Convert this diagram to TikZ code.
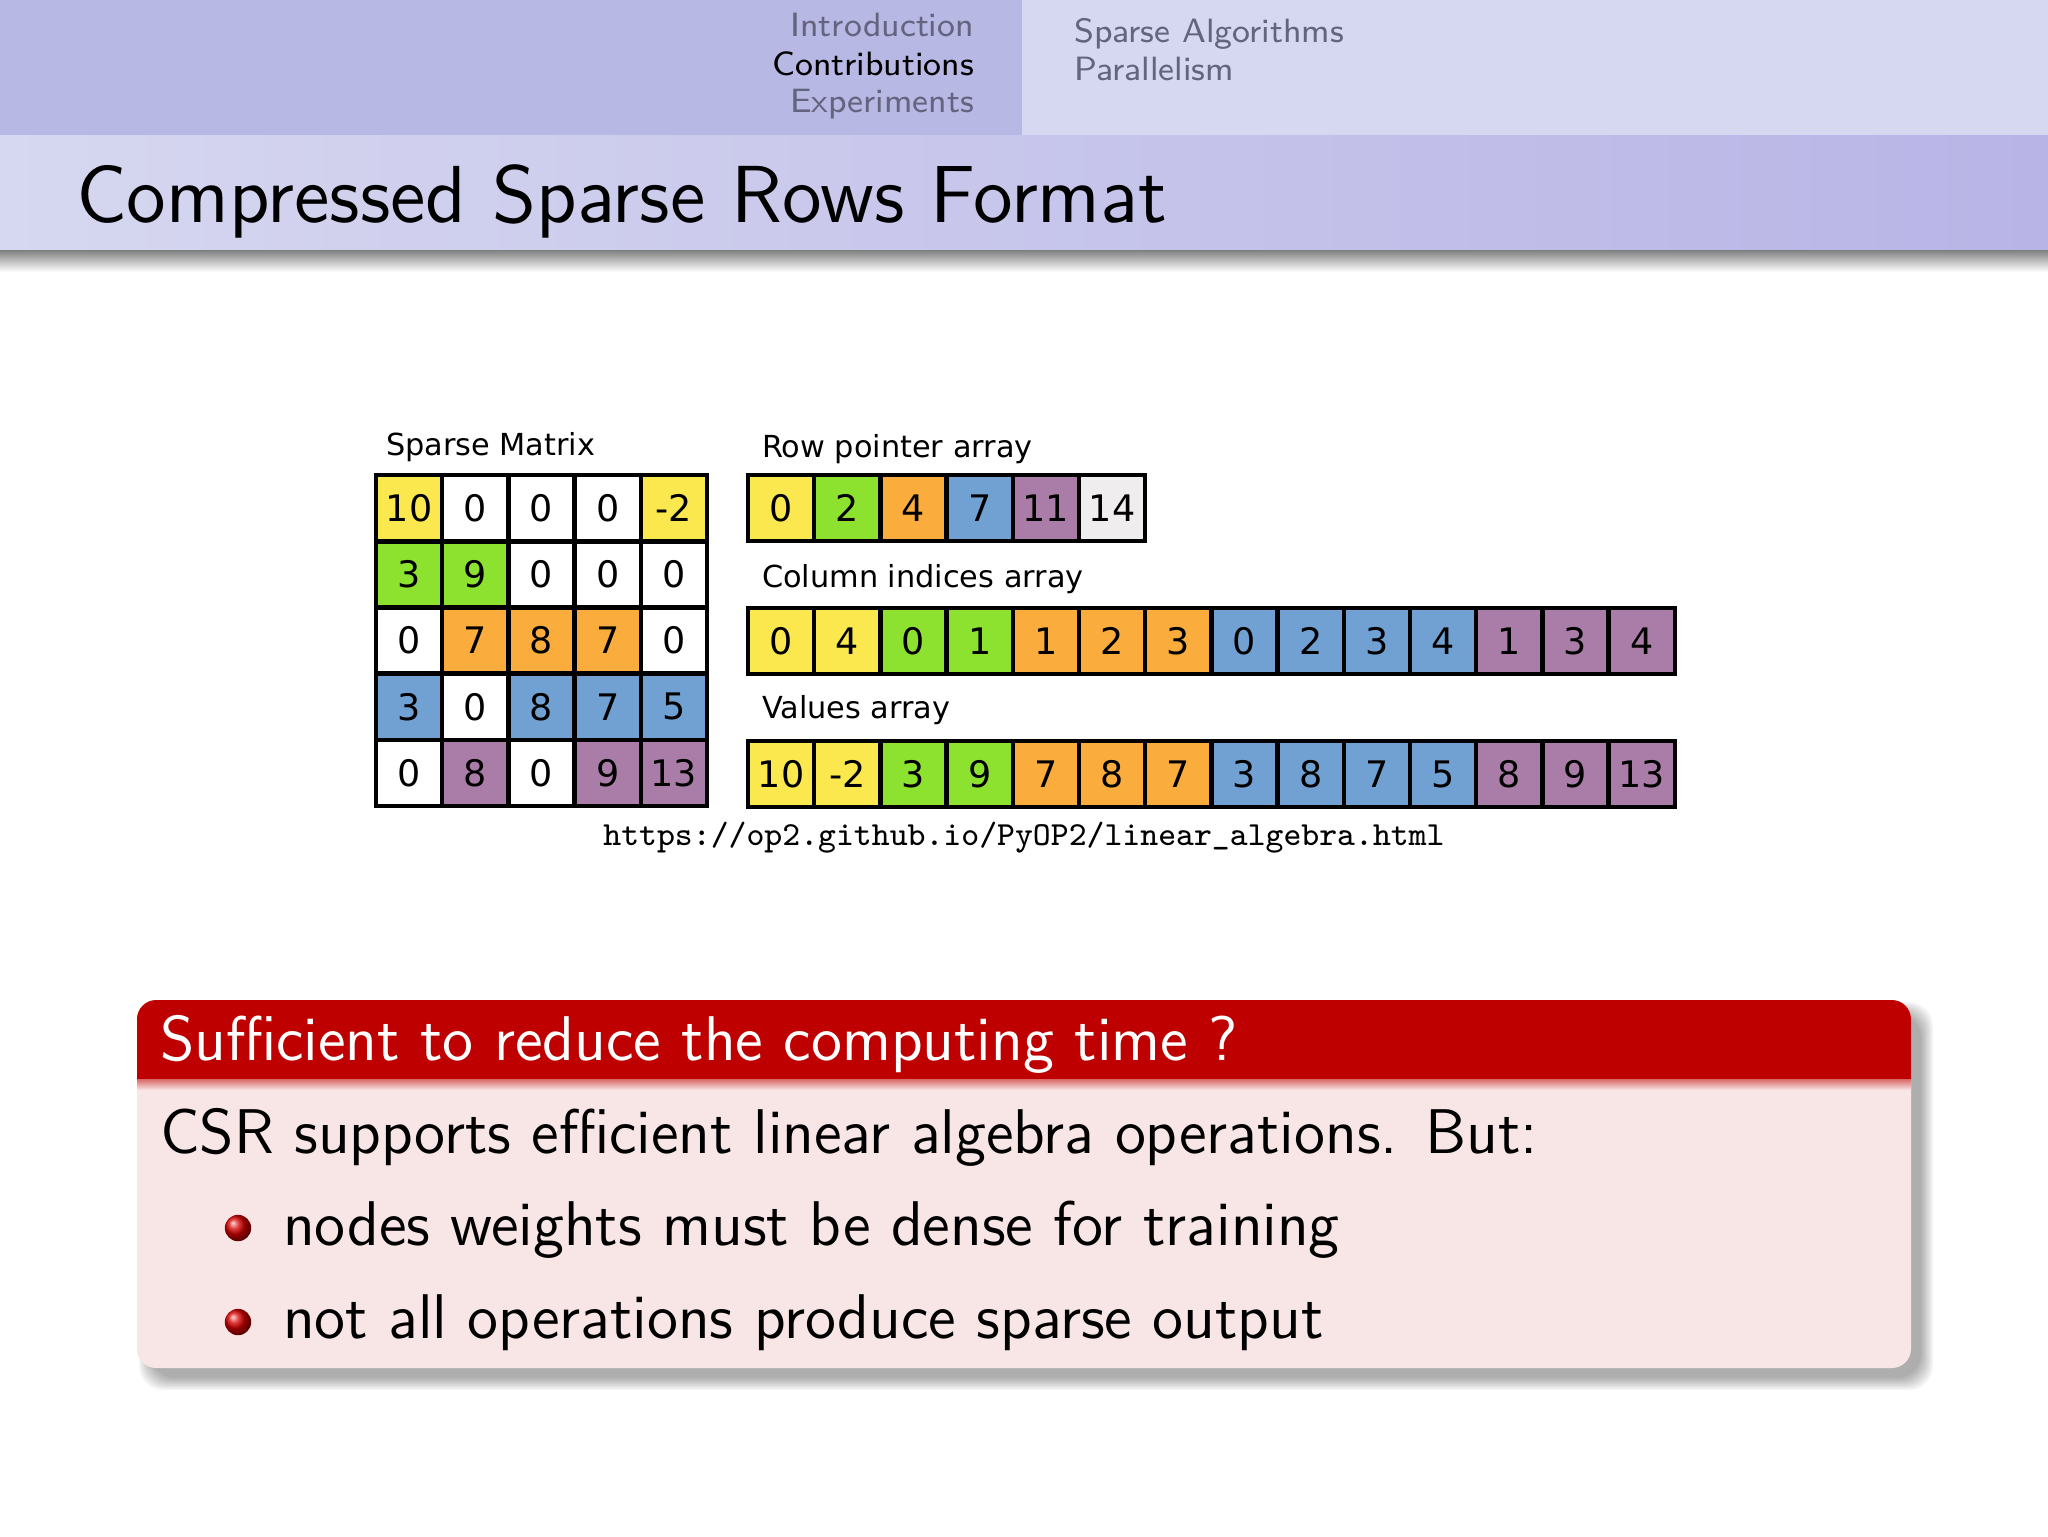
\documentclass[tikz,border=0pt]{standalone}
\usepackage{fontspec}
\newfontfamily\dejavu{DejaVu Sans}

% slide colours
\definecolor{navdark}{RGB}{184,184,228}
\definecolor{navlight}{RGB}{214,215,240}
\definecolor{barleft}{RGB}{214,215,240}
\definecolor{barright}{RGB}{184,180,230}
\definecolor{navgray}{RGB}{100,100,128}
\definecolor{blocktitle}{RGB}{190,0,0}
\definecolor{blockbody}{RGB}{248,230,230}
% cell colours, one per matrix row
\definecolor{cy}{RGB}{250,232,78}
\definecolor{cg}{RGB}{141,226,47}
\definecolor{co}{RGB}{250,173,61}
\definecolor{cb}{RGB}{113,161,211}
\definecolor{cp}{RGB}{169,125,167}
\definecolor{cl}{RGB}{239,237,238}
\definecolor{cw}{RGB}{255,255,255}

\tikzset{
  cell/.style={draw, line width=0.8pt, minimum size=0.41375cm, inner sep=0pt,
    font=\dejavu\fontsize{6.5}{7}\selectfont},
  lbl/.style={anchor=base west, inner sep=0pt, font=\dejavu\fontsize{5.4}{6}\selectfont},
  nav/.style={inner sep=0pt, font=\sffamily\fontsize{6}{7}\selectfont},
  blocktext/.style={anchor=base west, inner sep=0pt, font=\sffamily\fontsize{11.24}{13}\selectfont},
  bullet/.style={circle, minimum size=0.165cm, inner sep=0pt, shading=ball, ball color=red!85!black},
}

\begin{document}
\begin{tikzpicture}[x=0.00625cm, y=-0.00625cm]
  \useasboundingbox (0,0) rectangle (2048,1536);
  \fill[white] (0,0) rectangle (2048,1536);

  % head line: sections left, subsections right
  \fill[navdark] (0,0) rectangle (1022,135);
  \fill[navlight] (1022,0) rectangle (2048,135);
  \node[nav, anchor=base east, navgray] (sec1) at (975,36) {Introduction};
  \node[nav, anchor=base east] (sec2) at (975,75) {Contributions};
  \node[nav, anchor=base east, navgray] (sec3) at (975,112) {Experiments};
  \node[nav, anchor=base west, navgray] (sub1) at (1073,42) {Sparse Algorithms};
  \node[nav, anchor=base west, navgray] (sub2) at (1073,80) {Parallelism};

  % frame title bar and its shadow
  \shade[left color=barleft, right color=barright] (0,135) rectangle (2048,250);
  \shade[top color=black!50, bottom color=white] (0,250) rectangle (2048,272);
  \node[anchor=base west, inner sep=0pt, font=\sffamily\fontsize{14.4}{17}\selectfont]
    (title) at (75,222) {Compressed Sparse Rows Format};

  % sparse matrix
  \node[lbl] (lmat) at (385,455) {Sparse Matrix};
  \foreach \row [count=\r] in {{10/cy,0/cw,0/cw,0/cw,-2/cy},
                               {3/cg,9/cg,0/cw,0/cw,0/cw},
                               {0/cw,7/co,8/co,7/co,0/cw},
                               {3/cb,0/cw,8/cb,7/cb,5/cb},
                               {0/cw,8/cp,0/cw,9/cp,13/cp}}
    \foreach \v/\c [count=\k] in \row
      \node[cell, fill=\c] (m\r\k) at ({376+66.2*(\k-0.5)}, {475+66.2*(\r-0.5)}) {\v};

  % row pointer array
  \node[lbl] (lrp) at (761,457) {Row pointer array};
  \foreach \v/\c [count=\i] in {0/cy,2/cg,4/co,7/cb,11/cp,14/cl}
    \node[cell, fill=\c] (rp\i) at ({748+66.2*(\i-0.5)}, 508) {\v};

  % column indices array
  \node[lbl] (lci) at (761,587) {Column indices array};
  \foreach \v/\c [count=\i] in {0/cy,4/cy,0/cg,1/cg,1/co,2/co,3/co,
                                0/cb,2/cb,3/cb,4/cb,1/cp,3/cp,4/cp}
    \node[cell, fill=\c] (ci\i) at ({748+66.2*(\i-0.5)}, 641) {\v};

  % values array
  \node[lbl] (lva) at (761,718) {Values array};
  \foreach \v/\c [count=\i] in {10/cy,-2/cy,3/cg,9/cg,7/co,8/co,7/co,
                                3/cb,8/cb,7/cb,5/cb,8/cp,9/cp,13/cp}
    \node[cell, fill=\c] (va\i) at ({748+66.2*(\i-0.5)}, 774) {\v};

  \node[anchor=base, inner sep=0pt, font=\ttfamily\fontsize{6}{7}\selectfont]
    (url) at (1024,845) {https://op2.github.io/PyOP2/linear\_algebra.html};

  % block: blurred shadow, body, title
  \foreach \k in {0,1.5,...,12}
    \fill[black, opacity=0.04, rounded corners=0.15cm]
      ({151-\k},{1014-\k}) rectangle ({1921+\k},{1378+\k});
  \fill[blockbody, rounded corners=0.12cm] (137,1000) rectangle (1911,1368);
  \begin{scope}
    \clip (137,990) rectangle (1911,1079);
    \fill[blocktitle, rounded corners=0.12cm] (137,1000) rectangle (1911,1368);
  \end{scope}
  \shade[top color=blocktitle!55!blockbody, bottom color=blockbody] (137,1079) rectangle (1911,1090);

  \node[blocktext, white] (btitle) at (159,1060) {Sufficient to reduce the computing time ?};
  \node[blocktext] (body) at (159,1153) {CSR supports efficient linear algebra operations. But:};
  \node[bullet] (ball1) at (238,1228) {};
  \node[blocktext] (item1) at (282,1245) {nodes weights must be dense for training};
  \node[bullet] (ball2) at (238,1322) {};
  \node[blocktext] (item2) at (282,1338) {not all operations produce sparse output};
\end{tikzpicture}
\end{document}
